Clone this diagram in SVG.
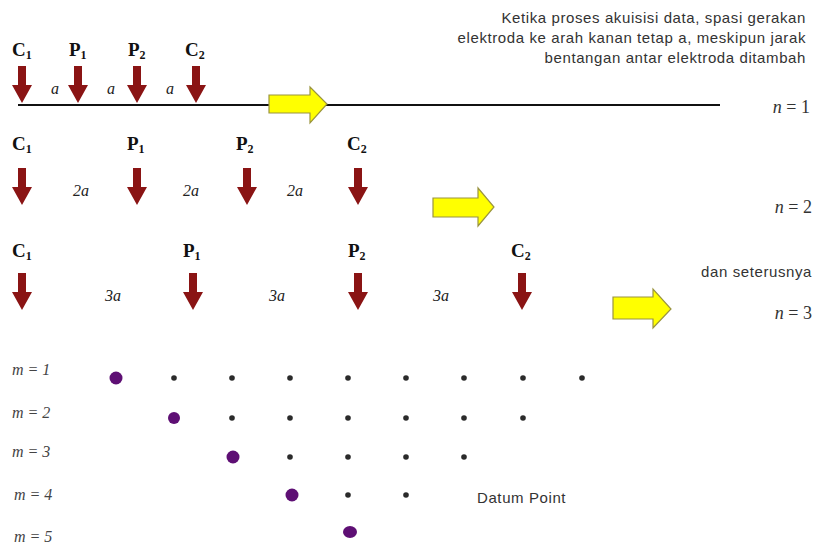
<svg xmlns="http://www.w3.org/2000/svg" width="814" height="546" viewBox="0 0 814 546">
  <style>
    .lbl { font-family: "Liberation Serif", "Times New Roman", serif; font-weight: bold; font-size: 19px; fill: #111; }
    .sub { font-size: 12px; }
    .sp  { font-family: "Liberation Serif", "Times New Roman", serif; font-style: italic; font-size: 16px; fill: #222; }
    .note { font-family: "Liberation Sans", Arial, sans-serif; font-size: 15px; letter-spacing: 0.6px; fill: #333; }
    .nlab { font-family: "Liberation Serif", "Times New Roman", serif; font-size: 18px; fill: #333; }
    .mlab { font-family: "Liberation Serif", "Times New Roman", serif; font-style: italic; font-size: 16px; fill: #444; }
    .el { fill: #8a1414; }
    .mv { fill: #ffff00; stroke: #9a9440; stroke-width: 1.2; }
    .dp { fill: #5e0f74; }
    .ds { fill: #2a2a2a; }
  </style>
  <defs>
    <!-- electrode arrow, tip at (0,0) -->
    <path id="elec" d="M-4,-37 L4,-37 L4,-18 L10,-18 L0,0 L-10,-18 L-4,-18 Z"/>
  </defs>

  <rect width="814" height="546" fill="#ffffff"/>

  <!-- explanatory note -->
  <g id="note" class="note" text-anchor="end">
    <text x="806" y="23">Ketika proses akuisisi data, spasi gerakan</text>
    <text x="806" y="43">elektroda ke arah kanan tetap a, meskipun jarak</text>
    <text x="806" y="63">bentangan antar elektroda ditambah</text>
  </g>

  <!-- ground surface line -->
  <g id="connectors">
    <line x1="18" y1="105" x2="720" y2="105" stroke="#111" stroke-width="2"/>
  </g>

  <!-- n = 1 : spacing a -->
  <g id="row-n1">
    <text class="lbl" x="12" y="56">C<tspan class="sub" dy="3">1</tspan></text>
    <text class="lbl" x="69" y="56">P<tspan class="sub" dy="3">1</tspan></text>
    <text class="lbl" x="128" y="56">P<tspan class="sub" dy="3">2</tspan></text>
    <text class="lbl" x="185" y="56">C<tspan class="sub" dy="3">2</tspan></text>
    <use href="#elec" class="el" x="22" y="103"/>
    <use href="#elec" class="el" x="78" y="103"/>
    <use href="#elec" class="el" x="137" y="103"/>
    <use href="#elec" class="el" x="196" y="103"/>
    <text class="sp" x="51" y="94">a</text>
    <text class="sp" x="107" y="94">a</text>
    <text class="sp" x="166" y="94">a</text>
    <path class="mv" d="M269,95 L310,95 L310,87 L327,104 L310,123 L310,113 L269,113 Z"/>
    <text class="nlab" x="810" y="113" text-anchor="end"><tspan font-style="italic">n</tspan> = 1</text>
  </g>

  <!-- n = 2 : spacing 2a -->
  <g id="row-n2">
    <text class="lbl" x="12" y="150">C<tspan class="sub" dy="3">1</tspan></text>
    <text class="lbl" x="127" y="150">P<tspan class="sub" dy="3">1</tspan></text>
    <text class="lbl" x="236" y="150">P<tspan class="sub" dy="3">2</tspan></text>
    <text class="lbl" x="347" y="150">C<tspan class="sub" dy="3">2</tspan></text>
    <use href="#elec" class="el" x="22" y="205"/>
    <use href="#elec" class="el" x="137" y="205"/>
    <use href="#elec" class="el" x="247" y="205"/>
    <use href="#elec" class="el" x="358" y="205"/>
    <text class="sp" x="73" y="196">2a</text>
    <text class="sp" x="183" y="196">2a</text>
    <text class="sp" x="287" y="196">2a</text>
    <path class="mv" d="M433,198 L478,198 L478,188 L494,207 L478,226 L478,217 L433,217 Z"/>
    <text class="nlab" x="812" y="213" text-anchor="end"><tspan font-style="italic">n</tspan> = 2</text>
  </g>

  <!-- n = 3 : spacing 3a -->
  <g id="row-n3">
    <text class="lbl" x="12" y="257">C<tspan class="sub" dy="3">1</tspan></text>
    <text class="lbl" x="183" y="257">P<tspan class="sub" dy="3">1</tspan></text>
    <text class="lbl" x="348" y="257">P<tspan class="sub" dy="3">2</tspan></text>
    <text class="lbl" x="511" y="257">C<tspan class="sub" dy="3">2</tspan></text>
    <use href="#elec" class="el" x="22" y="310"/>
    <use href="#elec" class="el" x="193" y="310"/>
    <use href="#elec" class="el" x="358" y="310"/>
    <use href="#elec" class="el" x="522" y="310"/>
    <text class="sp" x="105" y="301">3a</text>
    <text class="sp" x="269" y="301">3a</text>
    <text class="sp" x="433" y="301">3a</text>
    <path class="mv" d="M613,297 L653,297 L653,289 L671,309 L653,328 L653,319 L613,319 Z"/>
    <text class="note" x="812" y="277" text-anchor="end">dan seterusnya</text>
    <text class="nlab" x="812" y="319" text-anchor="end"><tspan font-style="italic">n</tspan> = 3</text>
  </g>

  <!-- datum point pseudosection -->
  <g id="datum">
    <g class="mlab">
      <text x="12" y="375">m = 1</text>
      <text x="12" y="418">m = 2</text>
      <text x="12" y="457">m = 3</text>
      <text x="14" y="500">m = 4</text>
      <text x="14" y="542">m = 5</text>
    </g>
    <!-- m = 1 -->
    <circle class="dp" cx="116" cy="378" r="6.5"/>
    <g class="ds">
      <circle cx="174" cy="378" r="2.8"/><circle cx="232" cy="378" r="2.8"/>
      <circle cx="290" cy="378" r="2.8"/><circle cx="348" cy="378" r="2.8"/>
      <circle cx="406" cy="378" r="2.8"/><circle cx="464" cy="378" r="2.8"/>
      <circle cx="523" cy="378" r="2.8"/><circle cx="582" cy="378" r="2.8"/>
    </g>
    <!-- m = 2 -->
    <circle class="dp" cx="174" cy="418" r="6"/>
    <g class="ds">
      <circle cx="232" cy="418" r="2.8"/><circle cx="290" cy="418" r="2.8"/>
      <circle cx="348" cy="418" r="2.8"/><circle cx="406" cy="418" r="2.8"/>
      <circle cx="464" cy="418" r="2.8"/><circle cx="523" cy="418" r="2.8"/>
    </g>
    <!-- m = 3 -->
    <circle class="dp" cx="233" cy="457" r="6.5"/>
    <g class="ds">
      <circle cx="290" cy="457" r="2.8"/><circle cx="348" cy="457" r="2.8"/>
      <circle cx="406" cy="457" r="2.8"/><circle cx="464" cy="457" r="2.8"/>
    </g>
    <!-- m = 4 -->
    <circle class="dp" cx="292" cy="495" r="6.5"/>
    <g class="ds">
      <circle cx="348" cy="495" r="2.8"/><circle cx="406" cy="495" r="2.8"/>
    </g>
    <!-- m = 5 -->
    <ellipse class="dp" cx="350" cy="532" rx="7" ry="6"/>
    <text class="note" x="477" y="503">Datum Point</text>
  </g>
</svg>
